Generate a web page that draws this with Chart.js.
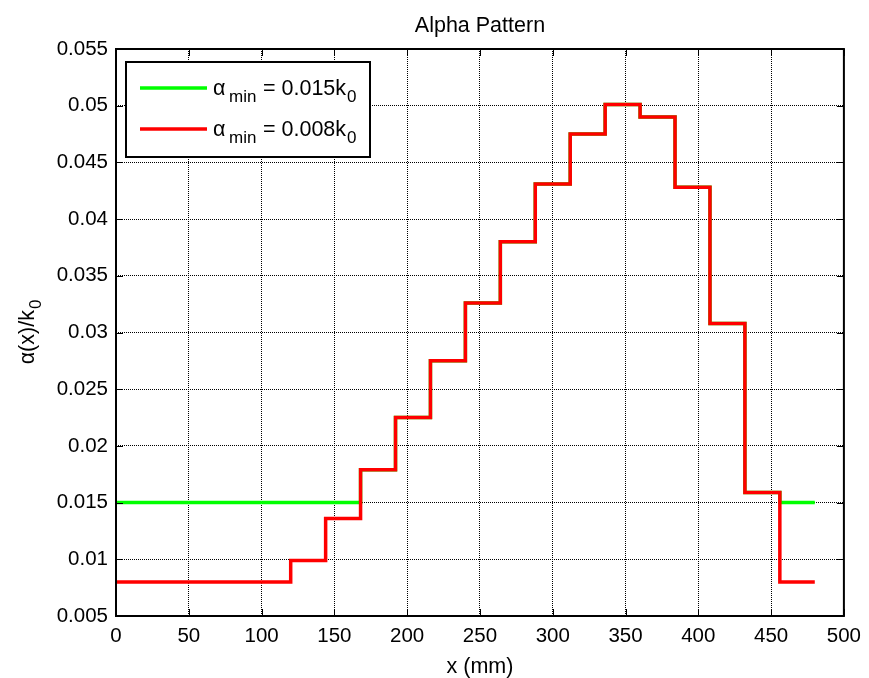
<!DOCTYPE html>
<html>
<head>
    <meta charset="utf-8" />
    <title>Alpha Pattern</title>
    <style>
        html, body { margin: 0; padding: 0; background: #fff; }
        #chartBox { width: 869px; height: 678px; }
    </style>
</head>
<body>
    <div id="chartBox">
        <canvas id="alphaChart"></canvas>
    </div>

    <script src="https://cdn.jsdelivr.net/npm/chart.js"></script>
    <script>
        // step start positions (mm), last one is the end of the pattern
        const xBreaks = [0, 120, 144, 168, 192, 216, 240, 264, 288, 312, 336, 360, 384, 408, 432, 456, 480];
        // alpha/k0 for alpha_min = 0.008k0
        const alpha008 = [0.0080, 0.0099, 0.0136, 0.0179, 0.0225, 0.0275, 0.0326, 0.0380, 0.0431, 0.0475, 0.0501, 0.0490, 0.0428, 0.0308, 0.0159, 0.0080, 0.0080];
        // alpha/k0 for alpha_min = 0.015k0
        const alpha015 = [0.0150, 0.0150, 0.0150, 0.0179, 0.0225, 0.0275, 0.0326, 0.0380, 0.0431, 0.0475, 0.0501, 0.0490, 0.0428, 0.0308, 0.0159, 0.0150, 0.0150];
        const xTicks = [0, 50, 100, 150, 200, 250, 300, 350, 400, 450, 500];
        const yTicks = [0.005, 0.01, 0.015, 0.02, 0.025, 0.03, 0.035, 0.04, 0.045, 0.05, 0.055];

        const FONT = "'Liberation Sans', Arial, sans-serif";

        function toPoints(values) {
            return xBreaks.map((x, i) => ({ x: x, y: values[i] }));
        }

        const matlabFrame = {
            id: 'matlabFrame',
            afterDraw(chart) {
                const ctx = chart.ctx;
                const a = chart.chartArea;
                const xs = chart.scales.x, ys = chart.scales.y;
                ctx.save();

                // box + inward ticks
                ctx.strokeStyle = '#000';
                ctx.lineWidth = 1;
                ctx.beginPath();
                xTicks.forEach(v => {
                    const px = Math.round(xs.getPixelForValue(v)) + 0.5;
                    ctx.moveTo(px, a.bottom); ctx.lineTo(px, a.bottom - 7);
                    ctx.moveTo(px, a.top); ctx.lineTo(px, a.top + 7);
                });
                yTicks.forEach(v => {
                    const py = Math.round(ys.getPixelForValue(v)) + 0.5;
                    ctx.moveTo(a.left, py); ctx.lineTo(a.left + 7, py);
                    ctx.moveTo(a.right, py); ctx.lineTo(a.right - 7, py);
                });
                ctx.stroke();
                ctx.lineWidth = 2;
                ctx.strokeRect(a.left, a.top, a.right - a.left, a.bottom - a.top);

                ctx.fillStyle = '#000';
                ctx.textBaseline = 'alphabetic';
                ctx.textAlign = 'center';
                const mid = (a.left + a.right) / 2;

                // title
                ctx.font = '21.5px ' + FONT;
                ctx.fillText('Alpha Pattern', mid, 32);

                // x title
                ctx.fillText('x (mm)', mid, 673);

                // y title, rotated, with subscript
                ctx.save();
                ctx.translate(34, (a.top + a.bottom) / 2);
                ctx.rotate(-Math.PI / 2);
                ctx.textAlign = 'left';
                ctx.font = '21.5px ' + FONT;
                const main = '\u03b1(x)/k';
                const mw = ctx.measureText(main).width;
                ctx.font = '17px ' + FONT;
                const sw = ctx.measureText('0').width;
                const x0 = -(mw + sw) / 2;
                ctx.font = '21.5px ' + FONT;
                ctx.fillText(main, x0, 0);
                ctx.font = '17px ' + FONT;
                ctx.fillText('0', x0 + mw + 1, 7);
                ctx.restore();

                // legend
                const lx = 126, ly = 62, lw = 244, lh = 95;
                ctx.fillStyle = '#fff';
                ctx.fillRect(lx, ly, lw, lh);
                ctx.lineWidth = 2;
                ctx.strokeStyle = '#000';
                ctx.strokeRect(lx, ly, lw, lh);
                const items = [
                    { color: '#00ff00', val: '= 0.015k', y: 88 },
                    { color: '#ff0000', val: '= 0.008k', y: 129 }
                ];
                ctx.textAlign = 'left';
                items.forEach(it => {
                    ctx.strokeStyle = it.color;
                    ctx.lineWidth = 3.5;
                    ctx.beginPath();
                    ctx.moveTo(140, it.y); ctx.lineTo(207, it.y);
                    ctx.stroke();
                    ctx.fillStyle = '#000';
                    const base = it.y + 7;
                    ctx.font = '21.5px ' + FONT;
                    ctx.fillText('\u03b1', 213, base);
                    ctx.font = '17px ' + FONT;
                    ctx.fillText('min', 229, base + 7);
                    ctx.font = '21.5px ' + FONT;
                    ctx.fillText(it.val, 263, base);
                    const vw = ctx.measureText(it.val).width;
                    ctx.font = '17px ' + FONT;
                    ctx.fillText('0', 263 + vw + 1, base + 7);
                });

                ctx.restore();
            }
        };

        const ctx = document.getElementById('alphaChart').getContext('2d');
        const chart = new Chart(ctx, {
            type: 'line',
            data: {
                datasets: [{
                    label: '\u03b1min = 0.015k0',
                    data: toPoints(alpha015),
                    borderColor: '#00ff00',
                    borderWidth: 3.5,
                    pointRadius: 0,
                    stepped: true,
                    order: 2
                }, {
                    label: '\u03b1min = 0.008k0',
                    data: toPoints(alpha008),
                    borderColor: '#ff0000',
                    borderWidth: 3.5,
                    pointRadius: 0,
                    stepped: true,
                    order: 1
                }]
            },
            options: {
                responsive: true,
                maintainAspectRatio: false,
                animation: false,
                layout: { padding: { left: 0, right: 24, top: 49, bottom: 0 } },
                plugins: {
                    legend: { display: false },
                    title: { display: false },
                    tooltip: { enabled: false }
                },
                scales: {
                    x: {
                        type: 'linear',
                        min: 0,
                        max: 500,
                        afterBuildTicks: s => { s.ticks = xTicks.map(v => ({ value: v })); },
                        afterFit: s => { s.height = 62; },
                        grid: { color: '#000', drawTicks: false, lineWidth: 1 },
                        border: { display: false, dash: [1, 1] },
                        ticks: {
                            color: '#000',
                            font: { family: FONT, size: 20.5 },
                            padding: 8,
                            maxRotation: 0,
                            callback: v => String(v)
                        }
                    },
                    y: {
                        type: 'linear',
                        min: 0.005,
                        max: 0.055,
                        afterBuildTicks: s => { s.ticks = yTicks.map(v => ({ value: v })); },
                        afterFit: s => { s.width = 116; },
                        grid: { color: '#000', drawTicks: false, lineWidth: 1 },
                        border: { display: false, dash: [1, 1] },
                        ticks: {
                            color: '#000',
                            font: { family: FONT, size: 20.5 },
                            padding: 8,
                            callback: v => String(+v.toFixed(3))
                        }
                    }
                }
            },
            plugins: [matlabFrame]
        });
    </script>
</body>
</html>
